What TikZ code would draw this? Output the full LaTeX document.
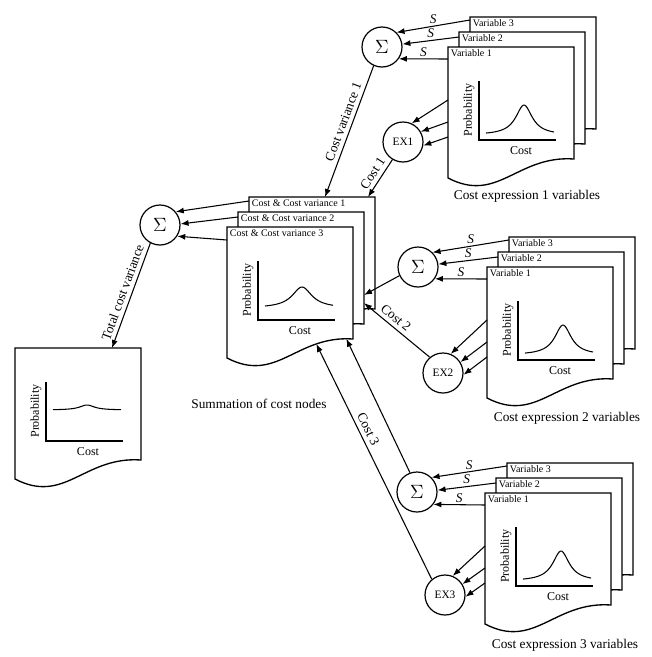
\documentclass[tikz,border=0pt]{standalone}
\usepackage{fontspec}
\setmainfont{Liberation Serif}
\usepackage{tikz}
\usetikzlibrary{arrows.meta, calc}

% one sheet with a wavy bottom edge: name, top-left corner, heading
\newcommand{\docpage}[3]{%
  \node[page] (#1) at (#2) {};
  \filldraw[pageline] (#1.south west) ++(0,19) coordinate (#1-bl) -- (#1.north west) -- (#1.north east) -- (#1.south east)
    .. controls +(-57,-4) and +(50,26) .. coordinate[pos=0.04] (#1-w1) coordinate[pos=0.25] (#1-w2) (#1-bl) -- cycle;
  \node[pagelabel] (#1-head) at (#1.north west) {#3};
}

% distribution sketch on a sheet: name, baseline, height, spread, peak
\newcommand{\pageplot}[5]{%
  \begin{scope}[shift={(#1.north west)}]
    \draw[axisline] (31,34) -- (31,93) -- (108,93);
    \node[axislabel, rotate=90] (#1-prob) at (21,63) {Probability};
    \node[axislabel] (#1-cost) at (73,104) {Cost};
    \draw[curveline] plot[domain=38:106, samples=50, smooth] (\x, {#2-#3/(1+((\x-#5)/#4)^2)});
  \end{scope}}

\begin{document}
\begin{tikzpicture}[x=0.75pt, y=-0.75pt,
  page/.style={anchor=north west, minimum width=94.5pt, minimum height=84pt, inner sep=0pt, outer sep=0pt},
  pageline/.style={draw=black, fill=white, line width=1pt},
  pagelabel/.style={anchor=north west, inner sep=2pt, font=\fontsize{7.5}{9}\selectfont},
  axisline/.style={line width=0.9pt},
  axislabel/.style={inner sep=0pt, font=\fontsize{9}{10}\selectfont},
  curveline/.style={line width=0.8pt},
  circ/.style={draw, circle, minimum size=30pt, inner sep=0pt, line width=0.9pt, fill=white},
  arr/.style={-{Latex[length=6pt, width=4.5pt]}, line width=0.8pt},
  slabel/.style={midway, above, inner sep=1.5pt, font=\fontsize{10}{12}\selectfont\itshape},
  linelabel/.style={midway, sloped, above, inner sep=3pt, font=\fontsize{10}{12}\selectfont},
  caption/.style={font=\fontsize{10}{12}\selectfont}]

\fill[white] (0,0) rectangle (652,657);
\useasboundingbox (0,0) rectangle (652,657);

% cost expression 1
\docpage{ex1v3}{470,17}{Variable 3}
\docpage{ex1v2}{459,32}{Variable 2}
\docpage{ex1v1}{448,47}{Variable 1}
\pageplot{ex1v1}{88}{30}{10}{76}
\node[caption] (cap1) at (527,196) {Cost expression 1 variables};

% cost expression 2
\docpage{ex2v3}{509,237}{Variable 3}
\docpage{ex2v2}{498,252}{Variable 2}
\docpage{ex2v1}{487,267}{Variable 1}
\pageplot{ex2v1}{88}{30}{10}{76}
\node[caption] (cap2) at (567,418) {Cost expression 2 variables};

% cost expression 3
\docpage{ex3v3}{507,463}{Variable 3}
\docpage{ex3v2}{496,478}{Variable 2}
\docpage{ex3v1}{485,493}{Variable 1}
\pageplot{ex3v1}{88}{30}{10}{76}
\node[caption] (cap3) at (565,645) {Cost expression 3 variables};

% summation of cost nodes
\docpage{sumA}{249,197}{Cost \& Cost variance 1}
\docpage{sumB}{238,212}{Cost \& Cost variance 2}
\docpage{sumC}{227,227}{Cost \& Cost variance 3}
\pageplot{sumC}{81}{21}{12}{75}
\node[caption] (capsum) at (259,404) {Summation of cost nodes};

% total
\docpage{total}{15,348}{}
\pageplot{total}{62}{5}{9}{72}

% sum and expression nodes
\node[circ] (sig1) at (382,47) {\fontsize{14}{14}\selectfont$\Sigma$};
\node[circ] (ex1) at (403,142) {\fontsize{8.5}{10}\selectfont EX1};
\node[circ] (sig2) at (418,267) {\fontsize{14}{14}\selectfont$\Sigma$};
\node[circ] (ex2) at (443,373) {\fontsize{8.5}{10}\selectfont EX2};
\node[circ] (sig3) at (417,492) {\fontsize{14}{14}\selectfont$\Sigma$};
\node[circ] (ex3) at (445,595) {\fontsize{8.5}{10}\selectfont EX3};
\node[circ] (sig0) at (160,225) {\fontsize{14}{14}\selectfont$\Sigma$};

% variables into the sums
\draw[arr] ($(ex1v3.north west)+(0,3)$) -- node[slabel] {S} (sig1.45);
\draw[arr] ($(ex1v2.north west)+(0,5)$) -- node[slabel] {S} (sig1.8);
\draw[arr] ($(ex1v1.north west)+(0,12)$) -- node[slabel] {S} (sig1.-35);
\draw[arr] ($(ex2v3.north west)+(0,3)$) -- node[slabel] {S} (sig2.45);
\draw[arr] ($(ex2v2.north west)+(0,5)$) -- node[slabel] {S} (sig2.8);
\draw[arr] ($(ex2v1.north west)+(0,12)$) -- node[slabel] {S} (sig2.-35);
\draw[arr] ($(ex3v3.north west)+(0,3)$) -- node[slabel] {S} (sig3.45);
\draw[arr] ($(ex3v2.north west)+(0,5)$) -- node[slabel] {S} (sig3.5);
\draw[arr] ($(ex3v1.north west)+(0,12)$) -- node[slabel] {S} (sig3.-37);

% variables into the expressions
\draw[arr] ($(ex1v1.north west)+(0,53)$) -- (ex1.65);
\draw[arr] ($(ex1v1.north west)+(0,75)$) -- (ex1.30);
\draw[arr] ($(ex1v1.north west)+(0,90)$) -- (ex1.-10);
\draw[arr] ($(ex2v1.north west)+(0,53)$) -- (ex2.68);
\draw[arr] ($(ex2v1.north west)+(0,75)$) -- (ex2.32);
\draw[arr] ($(ex2v1.north west)+(0,90)$) -- (ex2.-5);
\draw[arr] ($(ex3v1.north west)+(0,53)$) -- (ex3.68);
\draw[arr] ($(ex3v1.north west)+(0,75)$) -- (ex3.32);
\draw[arr] ($(ex3v1.north west)+(0,90)$) -- (ex3.-5);

% into the summation sheets
\draw[arr] (sig1.-114) -- node[linelabel, pos=0.45] {Cost variance 1} ($(sumA.north west)+(76,0)$);
\draw[arr] (ex1.-121) -- node[linelabel] {Cost 1} ($(sumA.north west)+(119,0)$);
\draw[arr] (sig2.-155) -- ($(sumB.north east)+(0,83)$);
\draw[arr] (ex2.130) -- node[linelabel, pos=0.6] {Cost 2} ($(sumB.north east)+(0,91)$);
\draw[arr] (sig3.110) -- (sumC-w1);
\draw[arr] (ex3.130) -- node[linelabel, pos=0.62] {Cost 3} (sumC-w2);

% summation to total
\draw[arr] ($(sumA.north west)+(0,4)$) -- (sig0.40);
\draw[arr] ($(sumB.north west)+(0,5)$) -- (sig0.3);
\draw[arr] ($(sumC.north west)+(0,13)$) -- (sig0.-33);
\draw[arr] (sig0.-118) -- node[linelabel] {Total cost variance} ($(total.north west)+(97,0)$);
\end{tikzpicture}
\end{document}
